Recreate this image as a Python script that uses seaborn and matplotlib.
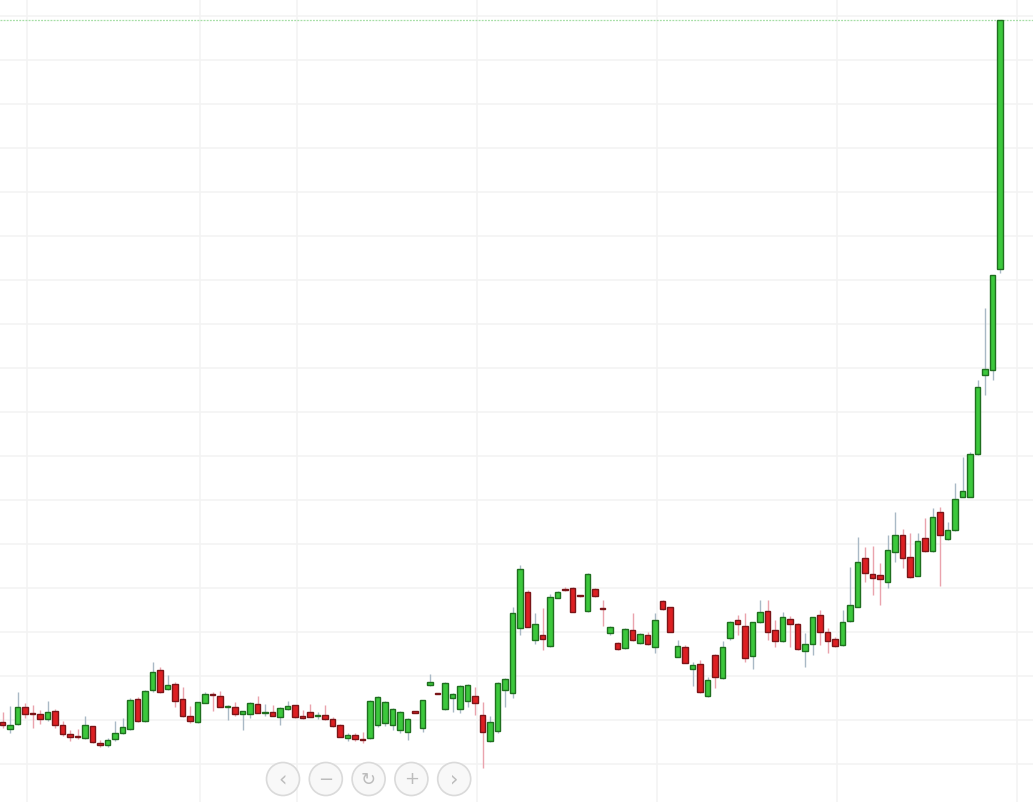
import matplotlib
matplotlib.use("Agg")
import matplotlib.pyplot as plt
import matplotlib.patches as mpatches
import numpy as np
import pandas as pd
import seaborn as sns

# ---- data (price units) ----
opens = [78.3, 70.7, 76.0, 93.3, 86.6, 86.0, 80.7, 89.0, 74.7, 66.3,
         64.0, 61.7, 73.7, 57.3, 54.7, 60.7, 67.3, 70.7, 101.0, 79.3,
         109.7, 129.7, 110.7, 116.0, 101.0, 84.0, 78.3, 97.3, 105.5, 103.7,
         93.5, 92.7, 85.7, 85.7, 96.3, 87.0, 88.0, 83.3, 90.7, 95.0,
         83.7, 88.0, 84.0, 85.0, 81.0, 74.7, 62.3, 64.7, 61.3, 61.7,
         75.0, 77.3, 75.0, 70.0, 68.3, 88.7, 72.3, 114.7, 106.5, 90.7,
         102.3, 90.7, 99.3, 103.7, 85.0, 59.3, 69.3, 110.0, 107.3, 172.3,
         208.3, 160.0, 164.7, 154.0, 202.3, 210.7, 212.3, 204.5, 189.3, 210.7,
         192.0, 167.3, 157.3, 152.3, 169.7, 156.7, 165.0, 153.3, 199.0, 192.7,
         143.3, 152.7, 130.7, 136.0, 104.3, 144.7, 121.7, 162.3, 179.7, 174.0,
         144.3, 178.3, 189.0, 170.0, 159.3, 181.0, 176.0, 149.3, 155.7, 185.0,
         168.3, 161.0, 155.0, 179.0, 193.3, 241.7, 226.0, 225.0, 218.3, 248.3,
         265.0, 242.7, 224.3, 262.3, 249.3, 288.0, 260.7, 270.0, 303.3, 303.3,
         346.0, 425.0, 430.0, 531.0]
highs = [88.3, 94.0, 108.3, 96.7, 95.0, 90.0, 99.3, 91.0, 79.0, 70.0,
         71.0, 84.0, 74.0, 60.0, 61.7, 79.3, 81.7, 101.7, 103.3, 110.0,
         137.7, 133.3, 125.0, 118.3, 112.7, 94.0, 98.3, 108.3, 108.3, 109.3,
         95.0, 98.3, 89.0, 98.3, 104.0, 96.0, 95.0, 93.3, 99.3, 95.0,
         90.0, 96.0, 88.3, 95.0, 83.3, 76.0, 66.7, 67.3, 68.3, 100.0,
         104.0, 99.0, 91.7, 89.0, 81.7, 89.0, 100.0, 126.0, 106.7, 118.3,
         107.3, 115.0, 115.7, 113.3, 98.3, 84.0, 118.3, 121.7, 193.3, 235.0,
         210.0, 186.7, 191.7, 205.7, 209.3, 212.7, 213.3, 205.0, 226.7, 212.3,
         200.0, 174.0, 158.3, 171.7, 186.7, 166.7, 168.3, 186.7, 200.0, 193.3,
         160.0, 155.0, 138.3, 140.0, 122.7, 146.0, 159.3, 179.3, 185.0, 186.7,
         178.3, 200.0, 200.0, 180.0, 188.3, 184.0, 177.3, 166.7, 183.3, 190.0,
         171.7, 162.7, 190.0, 233.3, 263.3, 253.3, 254.0, 236.7, 265.0, 288.3,
         270.7, 266.7, 267.0, 281.7, 291.7, 293.3, 278.3, 316.7, 343.3, 348.0,
         420.0, 491.7, 525.0, 780.0]
lows = [72.0, 66.7, 75.0, 81.7, 71.7, 76.0, 79.3, 72.0, 64.0, 59.3,
        60.7, 60.7, 57.3, 53.3, 53.3, 59.3, 66.0, 70.0, 78.3, 78.3,
        108.3, 107.3, 110.0, 93.3, 83.3, 76.7, 77.3, 96.7, 89.3, 92.7,
        80.0, 84.3, 70.0, 81.7, 86.7, 84.3, 84.0, 75.0, 90.0, 81.7,
        81.0, 82.7, 80.7, 80.0, 73.3, 62.7, 59.0, 59.3, 56.7, 60.7,
        72.7, 74.0, 70.0, 66.7, 60.0, 86.7, 68.3, 114.3, 105.7, 90.0,
        88.3, 86.7, 93.3, 85.0, 31.7, 58.3, 66.7, 93.3, 101.7, 165.0,
        172.7, 155.7, 150.0, 153.3, 201.7, 209.3, 187.7, 203.3, 188.3, 203.3,
        174.0, 165.0, 150.0, 151.3, 159.3, 156.0, 155.0, 147.3, 190.0, 167.7,
        142.7, 136.7, 114.0, 107.3, 103.3, 111.7, 120.7, 160.0, 165.0, 138.3,
        130.7, 176.7, 160.0, 153.3, 158.3, 153.3, 150.0, 132.7, 145.0, 155.0,
        147.3, 153.3, 154.0, 178.3, 192.7, 218.3, 205.0, 195.0, 211.7, 238.3,
        231.7, 222.3, 223.7, 248.3, 248.3, 214.3, 260.0, 269.3, 302.7, 302.7,
        345.0, 405.0, 420.0, 526.7]
closes = [75.0, 75.0, 93.3, 86.0, 86.0, 80.7, 87.7, 75.0, 66.0, 63.3,
          63.4, 74.7, 58.3, 54.7, 60.0, 67.3, 73.3, 100.0, 79.3, 108.7,
          127.7, 108.3, 115.0, 99.3, 84.3, 79.0, 97.7, 106.3, 105.0, 93.3,
          94.0, 85.7, 89.0, 96.7, 87.3, 87.3, 84.3, 92.3, 94.0, 83.3,
          81.7, 83.3, 84.3, 80.7, 74.0, 63.3, 64.7, 60.7, 60.0, 99.0,
          103.3, 98.3, 91.0, 88.3, 81.0, 87.0, 99.7, 118.3, 106.0, 117.3,
          106.3, 114.0, 115.0, 96.7, 68.3, 78.3, 117.3, 121.0, 187.3, 231.0,
          173.3, 176.0, 160.7, 203.3, 208.3, 209.7, 188.3, 204.0, 226.0, 204.3,
          191.4, 173.3, 150.7, 171.0, 160.0, 165.7, 155.7, 180.0, 190.7, 168.3,
          154.0, 137.3, 135.0, 108.3, 120.0, 123.3, 152.7, 177.7, 175.7, 142.3,
          177.7, 187.7, 168.3, 159.3, 182.7, 175.7, 150.7, 156.0, 182.7, 168.3,
          159.3, 154.3, 178.3, 195.0, 238.3, 227.3, 221.7, 220.7, 250.0, 265.0,
          242.3, 223.3, 259.0, 249.3, 282.7, 265.0, 270.0, 301.3, 308.7, 346.0,
          412.7, 431.0, 525.0, 780.0]

grid_prices = [36, 80, 124, 168, 212, 256, 300, 344, 388, 432, 476,
               520, 564, 608, 652, 696, 740, 784]
grid_sessions = [3.24, 26.3, 39.24, 63.24, 87.24, 111.24, 135.24]
nav_labels = ["\u2039", "\u2212", "\u21bb", "+", "\u203a"]

df = pd.DataFrame({"open": opens, "high": highs, "low": lows, "close": closes})
df["idx"] = np.arange(len(df))
df["up"] = df["close"] >= df["open"]

sns.set_theme(style="white")
plt.rcParams["font.family"] = ["DejaVu Sans"]

fig = plt.figure(figsize=(10.33, 8.02), dpi=100)
ax = fig.add_axes([0, 0, 1, 1])

GREEN_FILL = "#3cc83c"
GREEN_EDGE = "#1f6f1f"
RED_FILL = "#dd1f22"
RED_EDGE = "#7a1518"
GREEN_WICK = "#a9b9c6"
RED_WICK = "#eaa3ad"

up = df[df["up"]]
dn = df[~df["up"]]

ax.vlines(up["idx"], up["low"], up["high"], color=GREEN_WICK, lw=1.0, zorder=2)
ax.vlines(dn["idx"], dn["low"], dn["high"], color=RED_WICK, lw=1.0, zorder=2)

def body_h(o, c):
    return np.maximum(np.abs(c - o), 0.6)

ax.bar(up["idx"], body_h(up["open"], up["close"]), bottom=np.minimum(up["open"], up["close"]),
       width=0.74, color=GREEN_FILL, edgecolor=GREEN_EDGE, linewidth=1.0, zorder=3)
ax.bar(dn["idx"], body_h(dn["open"], dn["close"]), bottom=np.minimum(dn["open"], dn["close"]),
       width=0.74, color=RED_FILL, edgecolor=RED_EDGE, linewidth=1.0, zorder=3)

# last price line
ax.axhline(closes[-1], color="#a6dea6", lw=0.9, ls=(0, (1.5, 1)), zorder=1)

ax.set_xlim(-0.36, 137.37)
ax.set_ylim(-2, 800)
ax.set_yticks(grid_prices)
ax.set_xticks(grid_sessions)
ax.grid(True, color="#f3f3f3", lw=1.2, zorder=0)
ax.set_axisbelow(True)
ax.tick_params(left=False, bottom=False, labelleft=False, labelbottom=False)
for s in ax.spines.values():
    s.set_visible(False)

# navigation buttons overlay (pixel-mapped axes)
bax = fig.add_axes([240 / 1033, 0, 260 / 1033, 46 / 802])
bax.set_xlim(240, 500)
bax.set_ylim(802, 756)
bax.axis("off")
for i, lab in enumerate(nav_labels):
    cx = 283 + i * 42.8
    bax.add_patch(mpatches.Circle((cx, 779), 16.5, facecolor="#f8f8f8",
                                  edgecolor="#dadada", lw=1.2, zorder=2))
    bax.text(cx, 779.5, lab, ha="center", va="center",
             fontsize=15 if lab in ("\u2039", "\u203a") else 13,
             color="#bcbcbc", zorder=3)

fig.savefig("out.png", dpi=100)
